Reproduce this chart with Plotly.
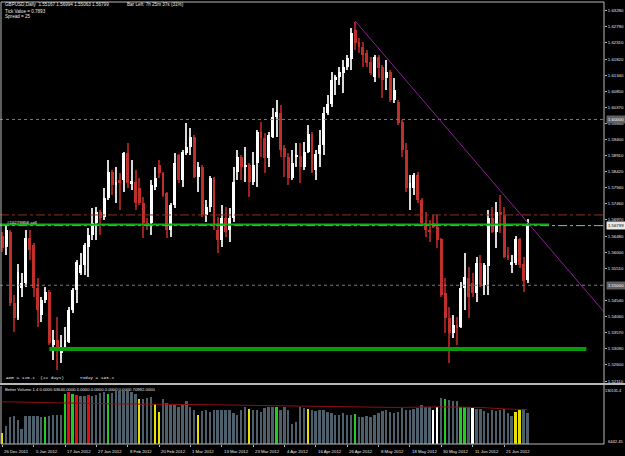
import plotly.graph_objects as go

# ---------------- data ----------------
date_labels = ["26 Dec 2011", "5 Jan 2012", "17 Jan 2012", "27 Jan 2012", "8 Feb 2012",
               "20 Feb 2012", "1 Mar 2012", "13 Mar 2012", "23 Mar 2012", "4 Apr 2012",
               "16 Apr 2012", "26 Apr 2012", "8 May 2012", "18 May 2012", "30 May 2012",
               "11 Jun 2012", "21 Jun 2012"]
date_label_bars = [0, 8, 16, 24, 32, 40, 48, 56, 64, 72, 80, 88, 96, 104, 112, 120, 128]

opens = [1.5649, 1.5615, 1.5661, 1.5447, 1.5401, 1.5492, 1.5507, 1.5643, 1.5621, 1.5492,
         1.5410, 1.5456, 1.5480, 1.5320, 1.5335, 1.5296, 1.5311, 1.5329, 1.5425, 1.5486,
         1.5537, 1.5561, 1.5615, 1.5652, 1.5688, 1.5721, 1.5706, 1.5763, 1.5842, 1.5802,
         1.5817, 1.5817, 1.5899, 1.5808, 1.5811, 1.5793, 1.5748, 1.5688, 1.5688, 1.5796,
         1.5863, 1.5839, 1.5778, 1.5667, 1.5742, 1.5893, 1.5817, 1.5899, 1.5917, 1.5947,
         1.5827, 1.5857, 1.5712, 1.5736, 1.5824, 1.5667, 1.5637, 1.5703, 1.5667, 1.5703,
         1.5842, 1.5887, 1.5857, 1.5863, 1.5811, 1.5869, 1.5962, 1.5944, 1.5884, 1.5947,
         1.6007, 1.6020, 1.5914, 1.5887, 1.5824, 1.5887, 1.5890, 1.5857, 1.5902, 1.5956,
         1.5848, 1.5896, 1.5923, 1.6020, 1.6047, 1.6119, 1.6128, 1.6140, 1.6158, 1.6182,
         1.6270, 1.6234, 1.6219, 1.6200, 1.6173, 1.6128, 1.6188, 1.6158, 1.6125, 1.6143,
         1.6059, 1.6053, 1.5992, 1.5908, 1.5793, 1.5793, 1.5833, 1.5757, 1.5688, 1.5667,
         1.5688, 1.5676, 1.5640, 1.5477, 1.5401, 1.5356, 1.5380, 1.5374, 1.5492, 1.5522,
         1.5507, 1.5477, 1.5567, 1.5501, 1.5558, 1.5703, 1.5661, 1.5721, 1.5712, 1.5591,
         1.5561, 1.5567, 1.5640, 1.5564, 1.55167]
highs = [1.5661, 1.5682, 1.5667, 1.5471, 1.5564, 1.5537, 1.5667, 1.5667, 1.5627, 1.5522,
         1.5465, 1.5495, 1.5486, 1.5365, 1.5404, 1.5350, 1.5374, 1.5434, 1.5492, 1.5576,
         1.5597, 1.5627, 1.5673, 1.5733, 1.5736, 1.5727, 1.5793, 1.5878, 1.5848, 1.5857,
         1.5839, 1.5902, 1.5929, 1.5878, 1.5848, 1.5824, 1.5766, 1.5703, 1.5817, 1.5857,
         1.5878, 1.5842, 1.5781, 1.5748, 1.5899, 1.5896, 1.5908, 1.5989, 1.5974, 1.5953,
         1.5872, 1.5863, 1.5757, 1.5830, 1.5827, 1.5706, 1.5742, 1.5736, 1.5733, 1.5857,
         1.5908, 1.5893, 1.5917, 1.5869, 1.5902, 1.5968, 1.5992, 1.5959, 1.5962, 1.6035,
         1.6059, 1.6044, 1.5923, 1.5899, 1.5908, 1.5929, 1.5929, 1.5932, 1.5983, 1.5962,
         1.5908, 1.5968, 1.6038, 1.6074, 1.6143, 1.6134, 1.6158, 1.6179, 1.6194, 1.6276,
         1.6294, 1.6246, 1.6234, 1.6210, 1.6188, 1.6194, 1.6194, 1.6164, 1.6179, 1.6149,
         1.6125, 1.6059, 1.5998, 1.5929, 1.5833, 1.5839, 1.5842, 1.5763, 1.5721, 1.5697,
         1.5712, 1.5712, 1.5643, 1.5522, 1.5434, 1.5410, 1.5404, 1.5510, 1.5597, 1.5555,
         1.5537, 1.5585, 1.5591, 1.5567, 1.5727, 1.5736, 1.5751, 1.5772, 1.5736, 1.5615,
         1.5591, 1.5649, 1.5643, 1.5585, 1.56994]
lows = [1.5600, 1.5591, 1.5437, 1.5359, 1.5395, 1.5465, 1.5495, 1.5576, 1.5465, 1.5374,
        1.5389, 1.5447, 1.5320, 1.5275, 1.5244, 1.5265, 1.5305, 1.5326, 1.5416, 1.5447,
        1.5531, 1.5531, 1.5525, 1.5637, 1.5637, 1.5652, 1.5697, 1.5757, 1.5772, 1.5748,
        1.5727, 1.5781, 1.5793, 1.5787, 1.5727, 1.5742, 1.5643, 1.5667, 1.5652, 1.5787,
        1.5824, 1.5766, 1.5643, 1.5646, 1.5733, 1.5808, 1.5796, 1.5893, 1.5893, 1.5824,
        1.5781, 1.5706, 1.5691, 1.5721, 1.5667, 1.5597, 1.5615, 1.5646, 1.5630, 1.5691,
        1.5817, 1.5817, 1.5811, 1.5766, 1.5802, 1.5796, 1.5887, 1.5839, 1.5857, 1.5944,
        1.5947, 1.5887, 1.5827, 1.5802, 1.5817, 1.5857, 1.5808, 1.5848, 1.5899, 1.5839,
        1.5817, 1.5857, 1.5893, 1.6014, 1.6038, 1.6074, 1.6104, 1.6080, 1.6149, 1.6149,
        1.6210, 1.6200, 1.6158, 1.6158, 1.6134, 1.6113, 1.6125, 1.6065, 1.6089, 1.6053,
        1.6050, 1.5983, 1.5887, 1.5781, 1.5727, 1.5772, 1.5748, 1.5682, 1.5646, 1.5630,
        1.5673, 1.5612, 1.5465, 1.5356, 1.5265, 1.5341, 1.5320, 1.5371, 1.5425, 1.5401,
        1.5465, 1.5450, 1.5495, 1.5471, 1.5471, 1.5658, 1.5612, 1.5658, 1.5582, 1.5576,
        1.5537, 1.5561, 1.5552, 1.5480, 1.55063]
closes = [1.5612, 1.5667, 1.5447, 1.5401, 1.5540, 1.5507, 1.5643, 1.5606, 1.5492, 1.5425,
          1.5456, 1.5480, 1.5326, 1.5335, 1.5311, 1.5311, 1.5335, 1.5425, 1.5486, 1.5570,
          1.5561, 1.5621, 1.5652, 1.5688, 1.5721, 1.5703, 1.5763, 1.5842, 1.5802, 1.5811,
          1.5811, 1.5899, 1.5808, 1.5814, 1.5748, 1.5748, 1.5688, 1.5682, 1.5802, 1.5824,
          1.5839, 1.5772, 1.5667, 1.5742, 1.5869, 1.5817, 1.5902, 1.5917, 1.5947, 1.5827,
          1.5857, 1.5712, 1.5736, 1.5824, 1.5673, 1.5637, 1.5703, 1.5661, 1.5703, 1.5811,
          1.5887, 1.5857, 1.5863, 1.5811, 1.5863, 1.5962, 1.5944, 1.5884, 1.5953, 1.6007,
          1.6023, 1.5908, 1.5887, 1.5824, 1.5869, 1.5890, 1.5857, 1.5902, 1.5956, 1.5842,
          1.5896, 1.5923, 1.6020, 1.6047, 1.6119, 1.6128, 1.6143, 1.6158, 1.6185, 1.6261,
          1.6231, 1.6219, 1.6194, 1.6170, 1.6140, 1.6188, 1.6155, 1.6119, 1.6143, 1.6059,
          1.6089, 1.5989, 1.5908, 1.5793, 1.5808, 1.5833, 1.5757, 1.5688, 1.5667, 1.5661,
          1.5676, 1.5637, 1.5471, 1.5401, 1.5356, 1.5380, 1.5374, 1.5492, 1.5525, 1.5465,
          1.5477, 1.5567, 1.5501, 1.5561, 1.5703, 1.5661, 1.5721, 1.5712, 1.5585, 1.5582,
          1.5570, 1.5640, 1.5561, 1.5513, 1.56799]

volumes = [29600, 44800, 63100, 66100, 57000, 37500, 66100, 66100, 66100, 66100,
           64900, 64300, 66100, 67300, 67300, 67300, 113600, 116700, 113600, 111800,
           108800, 108800, 111800, 108800, 111800, 116100, 117900, 113600, 116100, 119700,
           119700, 119700, 119700, 117900, 113600, 102700, 102700, 103900, 105700, 91700,
           75300, 102700, 93500, 89300, 90500, 84400, 90500, 98400, 85600, 78300,
           69200, 77100, 78300, 75300, 79500, 78300, 79500, 79500, 78300, 72200,
           67900, 78300, 84400, 81300, 79500, 78300, 75300, 83200, 84400, 84400,
           84400, 78300, 84400, 78300, 49100, 53900, 84400, 83200, 81300, 79500,
           77100, 78300, 79500, 75300, 73400, 69200, 67300, 72200, 67300, 69200,
           71000, 63100, 64900, 66100, 64900, 69200, 72200, 77100, 78300, 75300,
           73400, 75300, 83200, 79500, 79500, 81300, 83200, 89300, 84400, 84400,
           78300, 84400, 103900, 101400, 99600, 98400, 97800, 85600, 85600, 84400,
           83200, 81300, 81300, 76500, 73400, 78300, 77100, 79500, 81300, 72200,
           66100, 75300, 78300, 81300, 72200]
# n = neutral, g = churn (green), r = climax (red), y = low volume (yellow), w = climax churn (white)
volume_kind = ("ynnnnnnnnnngnnnn" "grgrnnrnnnngnnnn"
               "nnnynnnyynnnnnnn" "nnynnnnnnnnnnnny"
               "nnnnnngnnnnnnnyn" "nnnnnnnnnngnnnnn"
               "nnnnnnnnnnnnnnww" "ngnnnggnwnnnnnnn"
               "nnnyynnnnyynnnn")
vol_ma_bars = [0, 16, 30, 50, 70, 90, 100, 112, 122, 128, 134]
vol_ma_vals = [96600, 93500, 91700, 90500, 88700, 85600, 84400, 85600, 84400, 81300, 79500]

price_ticks = [1.6328, 1.6279, 1.6231, 1.6182, 1.6134, 1.6085, 1.6037, 1.5988, 1.5940,
               1.5891, 1.5842, 1.5794, 1.5746, 1.5697, 1.5648, 1.5600, 1.5551, 1.5454,
               1.5406, 1.5357, 1.5309, 1.5260, 1.5211]
round_levels = [1.6000, 1.5500]
bid_price = 1.56799
order_price = 1.5683
order_label = "#16279958 sell"
order_end_bar = 139.5
dashdot_level = 1.5712
support_level = 1.5308
support_bars = [12, 149]
trend_anchor_bars = [90, 134]
trend_anchor_prices = [1.6297, 1.5689]
vol_axis_min, vol_axis_max = 6442.45, 130131.4

# ---------------- geometry ----------------
W, H = 625, 456
PLOT_R = 604
MAIN_T, MAIN_B = 2, 383
VOL_T, VOL_B = 386, 444
X0_PX, BAR_PX = 2.3, 3.92
P0, KP = 1.63603, 0.0003016   # price at pixel row 0, price per pixel row

def px(x):
    return x / W

def py(y):
    return 1 - y / H

x_range = [(0 - X0_PX) / BAR_PX, (PLOT_R - X0_PX) / BAR_PX]
n = len(opens)
idx = list(range(n))

BG = "#000000"
FG = "#E8E8E8"
BULL = "#FFFFFF"
BEAR = "#C0302A"
BEAR_WICK = "#9A2020"
BULL_WICK = "#D8D8D8"
FONT = "Liberation Sans"

fig = go.Figure()

# candles: wicks then bodies
wick_base = lows
wick_len = [h - l for h, l in zip(highs, lows)]
wick_col = [BULL_WICK if c >= o else BEAR_WICK for o, c in zip(opens, closes)]
fig.add_trace(go.Bar(x=idx, y=wick_len, base=wick_base, width=0.28,
                     marker=dict(color=wick_col, line=dict(width=0)),
                     xaxis="x", yaxis="y", hoverinfo="skip", showlegend=False))
body_base = [min(o, c) for o, c in zip(opens, closes)]
body_len = [max(abs(c - o), 0.00032) for o, c in zip(opens, closes)]
body_col = [BULL if c >= o else BEAR for o, c in zip(opens, closes)]
fig.add_trace(go.Bar(x=idx, y=body_len, base=body_base, width=0.74,
                     marker=dict(color=body_col, line=dict(width=0)),
                     xaxis="x", yaxis="y", hoverinfo="skip", showlegend=False))

# volume
kind_col = {"n": "#4E5F6C", "g": "#22CC22", "r": "#E01010", "y": "#E8E000", "w": "#FFFFFF"}
fig.add_trace(go.Bar(x=idx, y=volumes, width=0.5,
                     marker=dict(color=[kind_col[k] for k in volume_kind], line=dict(width=0)),
                     xaxis="x2", yaxis="y2", hoverinfo="skip", showlegend=False))
fig.add_trace(go.Scatter(x=vol_ma_bars, y=vol_ma_vals, mode="lines",
                         line=dict(color="#8E1010", width=1),
                         xaxis="x2", yaxis="y2", hoverinfo="skip", showlegend=False))

shapes = []
# round-number dotted levels
for lv in round_levels:
    shapes.append(dict(type="line", xref="paper", yref="y", x0=0, x1=px(PLOT_R), y0=lv, y1=lv,
                       line=dict(color="#7A7A7A", width=1, dash="dot")))
# dash-dot level
shapes.append(dict(type="line", xref="paper", yref="y", x0=0, x1=px(PLOT_R),
                   y0=dashdot_level, y1=dashdot_level,
                   line=dict(color="#8A3418", width=1, dash="dashdot")))
# bid line
shapes.append(dict(type="line", xref="paper", yref="y", x0=0, x1=px(PLOT_R),
                   y0=bid_price, y1=bid_price,
                   line=dict(color="#5FC8C8", width=1, dash="dashdot")))
# order line
shapes.append(dict(type="line", xref="x", yref="y", x0=x_range[0], x1=order_end_bar,
                   y0=order_price, y1=order_price,
                   line=dict(color="#10B010", width=2)))
# support line
shapes.append(dict(type="line", xref="x", yref="y", x0=support_bars[0], x1=support_bars[1],
                   y0=support_level, y1=support_level,
                   line=dict(color="#0A9A0A", width=4)))
# trend line (ray)
slope = (trend_anchor_prices[1] - trend_anchor_prices[0]) / (trend_anchor_bars[1] - trend_anchor_bars[0])
t_end = x_range[1]
shapes.append(dict(type="line", xref="x", yref="y",
                   x0=trend_anchor_bars[0], y0=trend_anchor_prices[0],
                   x1=t_end, y1=trend_anchor_prices[0] + slope * (t_end - trend_anchor_bars[0]),
                   line=dict(color="#8E1E9A", width=1)))
# frames
FR = "#B8B8B8"
shapes += [
    dict(type="line", xref="paper", yref="paper", x0=px(1), x1=px(1), y0=py(MAIN_T), y1=py(MAIN_B), line=dict(color=FR, width=1)),
    dict(type="line", xref="paper", yref="paper", x0=px(1), x1=px(PLOT_R), y0=py(MAIN_T), y1=py(MAIN_T), line=dict(color=FR, width=1)),
    dict(type="line", xref="paper", yref="paper", x0=px(PLOT_R), x1=px(PLOT_R), y0=py(MAIN_T), y1=py(VOL_B), line=dict(color=FR, width=1)),
    dict(type="line", xref="paper", yref="paper", x0=0, x1=1, y0=py(MAIN_B + 1), y1=py(MAIN_B + 1), line=dict(color=FR, width=2)),
    dict(type="line", xref="paper", yref="paper", x0=px(1), x1=px(1), y0=py(VOL_T), y1=py(VOL_B), line=dict(color=FR, width=1)),
    dict(type="line", xref="paper", yref="paper", x0=px(1), x1=px(PLOT_R), y0=py(VOL_B), y1=py(VOL_B), line=dict(color=FR, width=1)),
]

ann = []
def text(x, y, s, size=4.6, color=FG, family=FONT, anchor="left", bg=None):
    d = dict(x=px(x), y=py(y), xref="paper", yref="paper", text=s, showarrow=False,
             xanchor=anchor, yanchor="middle", font=dict(size=size, color=color, family=family))
    if bg:
        d["bgcolor"] = bg
        d["borderpad"] = 0
    ann.append(d)

text(3, 5, "GBPUSD,Daily  1.55167 1.56994 1.55063 1.56799")
text(125, 5, "Bar Left: 7h 25m 37s (31%)")
text(3, 11, "Tick Value = 0.7893")
text(3, 17, "Spread = 25")
text(4, 377, "ADR = 128.1  (22 days)      Today = 193.1", size=4.4, family="Liberation Mono")
text(3, 389, "Better Volume 1.4 0.0000 63640.0000 0.0000 0.0000 0.0000 0.0000 70992.0000", size=4.2)
text(5, 222, order_label, size=4.4)
text(624, 390, "130131.4", size=3.9, anchor="right")
text(606, 441, "6442.45", size=4.1)
# highlighted axis price labels
for lv in round_levels:
    ann.append(dict(x=px(606), y=lv, xref="paper", yref="y", text=f"{lv:.5f}", showarrow=False,
                    xanchor="left", yanchor="middle", bgcolor="#606060",
                    font=dict(size=4.3, color="#FFFFFF", family=FONT)))
ann.append(dict(x=px(606), y=bid_price, xref="paper", yref="y", text=f"{bid_price:.5f}", showarrow=False,
                xanchor="left", yanchor="middle", bgcolor="#E8E8E8",
                font=dict(size=4.3, color="#000000", family=FONT)))
# date labels
for b, s in zip(date_label_bars, date_labels):
    ann.append(dict(x=b, y=py(451), xref="x2", yref="paper", text=s, showarrow=False,
                    xanchor="left", yanchor="middle", font=dict(size=4.3, color=FG, family=FONT)))

fig.update_layout(
    width=W, height=H, autosize=False,
    margin=dict(l=0, r=0, t=0, b=0, pad=0),
    paper_bgcolor=BG, plot_bgcolor=BG,
    barmode="overlay", bargap=0,
    showlegend=False,
    shapes=shapes, annotations=ann,
    xaxis=dict(domain=[0, px(PLOT_R)], range=x_range, anchor="y", showticklabels=False,
               showgrid=False, zeroline=False, showline=False, ticks=""),
    yaxis=dict(domain=[py(MAIN_B), py(MAIN_T)], range=[P0 - KP * MAIN_B, P0 - KP * MAIN_T],
               anchor="x", side="right", showgrid=False, zeroline=False, showline=False,
               tickvals=price_ticks, ticktext=[f"{t:.5f}" for t in price_ticks],
               ticks="outside", ticklen=2, tickcolor=FR, tickwidth=1,
               tickfont=dict(size=4.3, color=FG, family=FONT)),
    xaxis2=dict(domain=[0, px(PLOT_R)], range=x_range, anchor="y2", showticklabels=False,
                showgrid=False, zeroline=False, showline=False, ticks="outside",
                tickvals=date_label_bars, ticklen=2, tickcolor=FR),
    yaxis2=dict(domain=[py(VOL_B), py(VOL_T)], range=[vol_axis_min, vol_axis_max],
                anchor="x2", side="right", showgrid=False, zeroline=False, showline=False,
                showticklabels=False, ticks=""),
)

fig.write_html("out.html")
